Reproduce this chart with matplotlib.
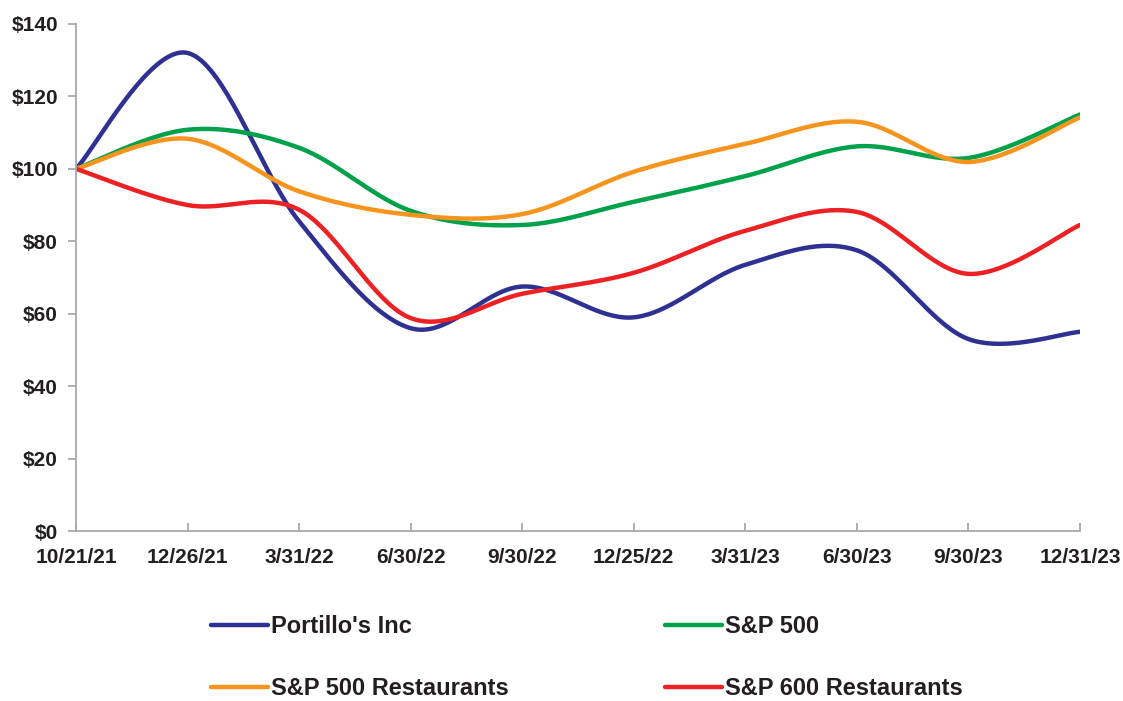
import numpy as np
import matplotlib.pyplot as plt
from matplotlib.ticker import FuncFormatter

plt.rcParams['font.family'] = ['Liberation Sans', 'DejaVu Sans']
plt.rcParams['font.weight'] = 'bold'

# data (indexed to $100)
dates = ['10/21/21', '12/26/21', '3/31/22', '6/30/22', '9/30/22',
         '12/25/22', '3/31/23', '6/30/23', '9/30/23', '12/31/23']
portillos = [100, 132, 85.5, 56, 67.5, 59, 73.5, 77.5, 53, 55]
sp500 = [100, 110.8, 105.8, 88.4, 84.5, 90.9, 98, 106.2, 103, 115]
sp500_rest = [100, 108.3, 93.8, 87.3, 87.5, 99.2, 106.9, 113, 101.9, 114.2]
sp600_rest = [100, 90, 88.7, 58.8, 65.5, 71.3, 82.9, 88.1, 71, 84.5]

series = [
    ("Portillo's Inc", portillos, '#2E3192'),
    ('S&P 500', sp500, '#00A14B'),
    ('S&P 500 Restaurants', sp500_rest, '#F7941D'),
    ('S&P 600 Restaurants', sp600_rest, '#ED2024'),
]

TXT = '#231F20'
AXC = '#A7A9AC'


def smooth(y, n=40):
    # catmull-rom style bezier, like a spreadsheet "smoothed line"
    y = np.asarray(y, float)
    x = np.arange(len(y), dtype=float)
    pts = np.column_stack([x, y])
    ext = np.vstack([pts[0], pts, pts[-1]])
    out = []
    t = np.linspace(0, 1, n)[:, None]
    for i in range(len(pts) - 1):
        p0, p1, p2, p3 = ext[i], ext[i + 1], ext[i + 2], ext[i + 3]
        c1 = p1 + (p2 - p0) / 6
        c2 = p2 - (p3 - p1) / 6
        seg = ((1 - t) ** 3 * p1 + 3 * (1 - t) ** 2 * t * c1
               + 3 * (1 - t) * t ** 2 * c2 + t ** 3 * p2)
        out.append(seg if i == 0 else seg[1:])
    seg = np.vstack(out)
    return seg[:, 0], seg[:, 1]


fig = plt.figure(figsize=(11.23, 7.01), dpi=100)
ax = fig.add_axes([0.0677, 0.2425, 0.894, 0.7233])

for label, vals, col in series:
    xs, ys = smooth(vals)
    ax.plot(xs, ys, color=col, lw=3.2, label=label, solid_capstyle='round')

ax.set_xlim(0, len(dates) - 1)
ax.set_ylim(0, 140)
ax.set_xticks(range(len(dates)))
ax.set_xticklabels(dates)
ax.set_yticks(range(0, 141, 20))
ax.yaxis.set_major_formatter(FuncFormatter(lambda v, p: f'${v:.0f}'))

for s in ['top', 'right']:
    ax.spines[s].set_visible(False)
for s in ['left', 'bottom']:
    ax.spines[s].set_color(AXC)
    ax.spines[s].set_linewidth(1.3)

ax.tick_params(axis='x', direction='in', length=6, width=1.3, color=AXC,
               labelsize=15, labelcolor=TXT, pad=12)
ax.tick_params(axis='y', direction='out', length=6, width=1.3, color=AXC,
               labelsize=15, labelcolor=TXT, pad=7)
for lbl in ax.get_xticklabels() + ax.get_yticklabels():
    lbl.set_fontweight('bold')

h, l = ax.get_legend_handles_labels()
order = [0, 2, 1, 3]
leg = fig.legend([h[i] for i in order], [l[i] for i in order], ncol=2,
                 loc='upper left', bbox_to_anchor=(0.188, 1 - 615 / 701),
                 frameon=False, fontsize=17, handlelength=2.4,
                 handletextpad=0.15, columnspacing=6.6, labelspacing=1.65,
                 borderpad=0, borderaxespad=0)
for t in leg.get_texts():
    t.set_color(TXT)
    t.set_fontweight('bold')

fig.savefig('out.png', dpi=100)
